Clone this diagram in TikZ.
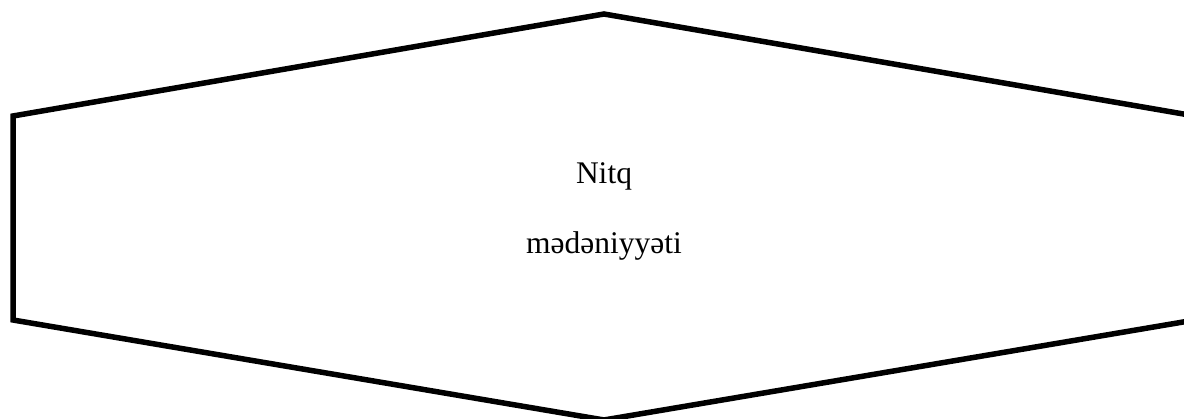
\documentclass[tikz,border=0pt]{standalone}
\usepackage{fontspec}
\setmainfont{Liberation Serif}
\usetikzlibrary{positioning}

\begin{document}
\begin{tikzpicture}[x=1pt, y=-1pt,
  outline/.style={draw=black, line width=5.5pt, line join=miter},
  caption/.style={font=\fontsize{31.5}{70}\selectfont, align=center},
]
  \useasboundingbox (0,0) rectangle (1184,419);
  \clip (0,0) rectangle (1184,419);

  % hexagon corners
  \coordinate (top) at (604,14);
  \coordinate (lt) at (13,116);
  \coordinate (lb) at (13,320);
  \coordinate (bot) at (604,420);
  \coordinate (rb) at (1195,320);
  \coordinate (rt) at (1195,116);

  \draw[outline] (top) -- (lt) -- (lb) -- (bot) -- (rb) -- (rt) -- cycle;

  \node[caption] (name) at (604,211) {Nitq\\mədəniyyəti};
\end{tikzpicture}
\end{document}
